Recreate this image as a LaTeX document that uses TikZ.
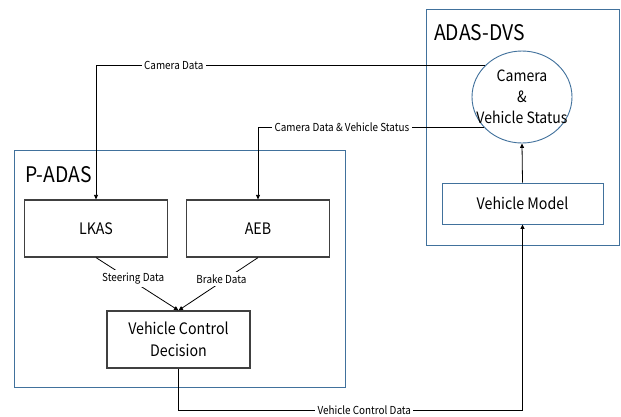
\documentclass[tikz,border=0pt]{standalone}
\usepackage{fontspec}
\setmainfont[FakeStretch=0.9]{Noto Sans CJK KR}
\usepackage{tikz}
\usepackage{xcolor}
\usetikzlibrary{arrows.meta, calc, positioning, shapes.geometric}

\definecolor{frameblue}{HTML}{41719C}

\begin{document}
\begin{tikzpicture}[x=1pt, y=-1pt,
    group/.style={draw=frameblue, line width=0.9pt},
    block/.style={draw=black!75, line width=1.2pt, fill=white, inner sep=0pt,
      minimum width=143pt, minimum height=57pt, align=center,
      font=\fontsize{15.8}{22}\selectfont},
    wire/.style={draw=black, line width=0.8pt, -{Triangle[length=4.5pt, width=4pt]}},
    tag/.style={fill=white, inner sep=2.5pt, font=\fontsize{11}{12}\selectfont},
    title/.style={anchor=base west, inner sep=0pt, font=\fontsize{21.5}{24}\selectfont}]

  % Page
  \path[use as bounding box, fill=white] (0,0) rectangle (621,416);

  % Simulator side
  \draw[group] (426,9) rectangle (619,245);
  \node[title] (dvstitle) at (434,40) {ADAS-DVS};
  \node[ellipse, draw=frameblue, line width=0.9pt, fill=white, inner sep=0pt,
    minimum width=100pt, minimum height=92pt] (cam) at (522,97) {};
  \node[align=center, font=\fontsize{15.6}{21}\selectfont] (camtext) at (cam) {Camera\\\&\\Vehicle Status};
  \node[draw=frameblue, line width=0.9pt, fill=white, inner sep=0pt,
    minimum width=161pt, minimum height=41pt,
    font=\fontsize{15.8}{22}\selectfont] (vm) at (522.5,203.5) {Vehicle Model};

  % Controller side
  \draw[group] (14,150) rectangle (345,387);
  \node[title] (padastitle) at (25,182) {P-ADAS};
  \node[block] (lkas) at (96,228.5) {LKAS};
  \node[block] (aeb) at (258,228.5) {AEB};
  \node[block] (vcd) at (178.5,339.5) {Vehicle Control\\Decision};

  % Data flow
  \draw[wire] (cam.140) -| node[tag, pos=0.4] {Camera Data} (lkas.north);
  \draw[wire] (cam.218) -| node[tag, pos=0.314] {Camera Data \& Vehicle Status} (aeb.north);
  \draw[wire] (vm.north) -- (cam.south);
  \draw[wire] (lkas.south) -- node[tag, pos=0.45, yshift=3pt] {Steering Data} (vcd.north);
  \draw[wire] (aeb.south) -- node[tag, pos=0.46, yshift=3pt] {Brake Data} (vcd.north);
  \draw[wire] (vcd.south) -- ++(0,42) -| node[tag, pos=0.27] {Vehicle Control Data} (vm.south);
\end{tikzpicture}
\end{document}
